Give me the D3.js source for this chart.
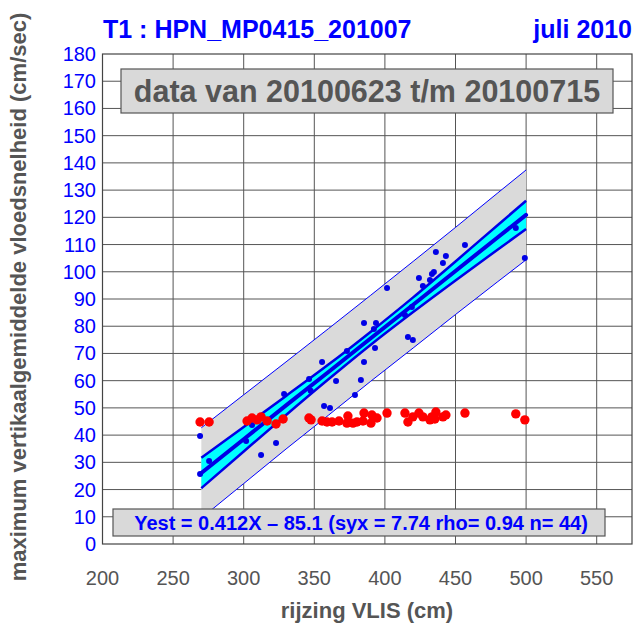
<!DOCTYPE html>
<html lang="en">
<head>
<meta charset="UTF-8">
<title>HPN_MP0415_201007</title>
<script src="https://cdn.jsdelivr.net/npm/d3@7"></script>
<style>
    body { margin: 0; background: white; }
    svg { display: block; font-family: "Liberation Sans", Arial, sans-serif; }
</style>
</head>
<body>
<svg id="chart" width="636" height="626"></svg>
<script>
// ticks
const xTicks = [200, 250, 300, 350, 400, 450, 500, 550];
const yTicks = [0, 10, 20, 30, 40, 50, 60, 70, 80, 90, 100, 110, 120, 130, 140, 150, 160, 170, 180];

// regression bands
const bandX  = [270, 300, 330, 360, 390, 420, 450, 480, 500];
const fitY   = [26.1, 38.5, 50.9, 63.2, 75.6, 87.9, 100.3, 112.7, 120.9];
const confHi = [31.7, 43.0, 54.4, 65.9, 78.0, 90.6, 103.8, 117.2, 126.1];
const confLo = [20.5, 34.0, 47.4, 60.5, 73.2, 85.2, 96.8, 108.2, 115.7];
const predHi = [42.7, 54.8, 66.9, 79.1, 91.4, 103.8, 116.3, 129.0, 137.4];
const predLo = [9.5, 22.2, 34.9, 47.3, 59.8, 72.0, 84.3, 96.4, 104.4];

// blue points (used in the fit)
const blueX = [269.1, 269.1, 275.5, 301.7, 305.9, 312.3, 322.9, 328.6, 346.3, 347.4, 355.5, 356.9,
    361.1, 365.4, 373.1, 378.8, 383.0, 385.2, 385.2, 392.2, 393.7, 393.0, 401.5, 414.2, 416.3,
    419.8, 419.1, 424.1, 426.9, 431.9, 433.3, 434.7, 436.1, 441.1, 443.2, 456.7, 492.7, 499.1];
const blueY = [39.7, 25.7, 30.5, 37.8, 43.7, 32.7, 37.1, 55.1, 60.6, 56.3, 66.9, 50.7,
    50.0, 59.9, 70.9, 54.7, 60.2, 81.2, 66.9, 79.0, 81.2, 72.0, 94.0, 84.1, 76.0,
    74.9, 87.1, 97.7, 94.8, 97.0, 99.2, 99.9, 107.3, 103.2, 105.8, 109.8, 116.1, 105.1];

// red points
const redX = [269.1, 275.5, 302.4, 305.9, 309.5, 312.3, 316.6, 322.9, 327.9, 346.2, 347.7, 355.5,
    359.0, 362.6, 367.5, 373.1, 373.8, 377.4, 380.2, 384.5, 385.2, 390.1, 390.8, 394.4, 401.5,
    414.2, 416.3, 419.8, 424.1, 426.9, 431.9, 433.3, 435.4, 436.1, 441.1, 443.2, 456.7, 492.7, 499.1];
const redY = [44.8, 44.8, 45.2, 46.3, 45.6, 46.7, 45.2, 44.1, 45.9, 46.3, 45.6, 45.2,
    44.8, 44.8, 45.2, 44.4, 47.0, 44.4, 44.8, 45.2, 48.1, 44.4, 47.4, 46.3, 48.1,
    48.1, 44.8, 46.7, 48.1, 46.7, 45.6, 46.7, 45.9, 48.5, 46.7, 47.4, 48.1, 47.8, 45.6];

const titleLeft = "T1 : HPN_MP0415_201007";
const titleRight = "juli 2010";
const periodText = "data van 20100623 t/m 20100715";
const fitText = "Yest = 0.412X \u2013 85.1 (syx = 7.74 rho= 0.94 n= 44)";
const xLabel = "rijzing VLIS (cm)";
const yLabel = "maximum vertikaalgemiddelde vloedsnelheid (cm/sec)";

const svg = d3.select("#chart");
const plotL = 102.5, plotR = 632, plotT = 54, plotB = 544;

const x = d3.scaleLinear().domain([200, 575]).range([plotL, plotL + 375 * (70.6 / 50)]);
const y = d3.scaleLinear().domain([0, 180]).range([plotB, plotT]);

// grid
svg.append("g").selectAll("line")
    .data(xTicks.slice(1))
    .join("line")
    .attr("x1", d => x(d)).attr("x2", d => x(d))
    .attr("y1", plotT).attr("y2", plotB)
    .attr("stroke", "#555").attr("stroke-width", 1);
svg.append("g").selectAll("line")
    .data(yTicks.slice(1, -1))
    .join("line")
    .attr("x1", plotL).attr("x2", plotR)
    .attr("y1", d => y(d)).attr("y2", d => y(d))
    .attr("stroke", "#555").attr("stroke-width", 1);

const band = bandX.map((v, i) => ({ x: v, fit: fitY[i], cLo: confLo[i], cHi: confHi[i], pLo: predLo[i], pHi: predHi[i] }));

// prediction band
svg.append("path")
    .datum(band)
    .attr("fill", "#dadada")
    .attr("d", d3.area().x(d => x(d.x)).y0(d => y(d.pLo)).y1(d => y(d.pHi)));
["pLo", "pHi"].forEach(k => {
    svg.append("path").datum(band)
        .attr("fill", "none").attr("stroke", "blue").attr("stroke-width", 1)
        .attr("d", d3.line().x(d => x(d.x)).y(d => y(d[k])));
});

// confidence band
svg.append("path")
    .datum(band)
    .attr("fill", "#00ffff")
    .attr("d", d3.area().curve(d3.curveMonotoneX).x(d => x(d.x)).y0(d => y(d.cLo)).y1(d => y(d.cHi)));
["cLo", "cHi"].forEach(k => {
    svg.append("path").datum(band)
        .attr("fill", "none").attr("stroke", "#0000e6").attr("stroke-width", 2.5)
        .attr("d", d3.line().curve(d3.curveMonotoneX).x(d => x(d.x)).y(d => y(d[k])));
});
svg.append("path").datum(band)
    .attr("fill", "none").attr("stroke", "#0000e6").attr("stroke-width", 4)
    .attr("stroke-linecap", "round")
    .attr("d", d3.line().x(d => x(d.x)).y(d => y(d.fit)));

// points
svg.append("g").selectAll("circle")
    .data(d3.zip(blueX, blueY))
    .join("circle")
    .attr("cx", d => x(d[0])).attr("cy", d => y(d[1]))
    .attr("r", 3).attr("fill", "#0000e6");
svg.append("g").selectAll("circle")
    .data(d3.zip(redX, redY))
    .join("circle")
    .attr("cx", d => x(d[0])).attr("cy", d => y(d[1]))
    .attr("r", 4.7).attr("fill", "red");

// frame
svg.append("rect")
    .attr("x", plotL).attr("y", plotT)
    .attr("width", plotR - plotL).attr("height", plotB - plotT)
    .attr("fill", "none").attr("stroke", "#444").attr("stroke-width", 1.2);

// tick labels
svg.append("g").selectAll("text")
    .data(xTicks)
    .join("text")
    .attr("x", d => x(d)).attr("y", 585)
    .attr("text-anchor", "middle")
    .attr("font-size", 20).attr("fill", "#555")
    .text(d => d);
svg.append("g").selectAll("text")
    .data(yTicks)
    .join("text")
    .attr("x", 96).attr("y", d => y(d) + 7)
    .attr("text-anchor", "end")
    .attr("font-size", 20).attr("fill", "blue")
    .text(d => d);

// titles
svg.append("text").attr("x", 103).attr("y", 38)
    .attr("font-size", 25).attr("font-weight", "bold").attr("fill", "blue")
    .text(titleLeft);
svg.append("text").attr("x", 632).attr("y", 38)
    .attr("text-anchor", "end")
    .attr("font-size", 25).attr("font-weight", "bold").attr("fill", "blue")
    .text(titleRight);

svg.append("text").attr("x", 367).attr("y", 618)
    .attr("text-anchor", "middle")
    .attr("font-size", 22).attr("font-weight", "bold").attr("fill", "#555")
    .text(xLabel);
svg.append("text")
    .attr("transform", "translate(26,297) rotate(-90)")
    .attr("text-anchor", "middle")
    .attr("font-size", 22).attr("font-weight", "bold").attr("fill", "#555")
    .text(yLabel);

// boxes
svg.append("rect").attr("x", 121).attr("y", 69).attr("width", 492).attr("height", 44)
    .attr("fill", "#d9d9d9").attr("stroke", "#555").attr("stroke-width", 1.2);
svg.append("text").attr("x", 367).attr("y", 102)
    .attr("text-anchor", "middle")
    .attr("font-size", 30.5).attr("font-weight", "bold").attr("fill", "#555")
    .text(periodText);

svg.append("rect").attr("x", 113).attr("y", 509).attr("width", 492).attr("height", 27)
    .attr("fill", "#d9d9d9").attr("stroke", "#555").attr("stroke-width", 1.2);
svg.append("text").attr("x", 361).attr("y", 530)
    .attr("text-anchor", "middle")
    .attr("font-size", 20).attr("font-weight", "bold").attr("fill", "blue")
    .text(fitText);
</script>
</body>
</html>
